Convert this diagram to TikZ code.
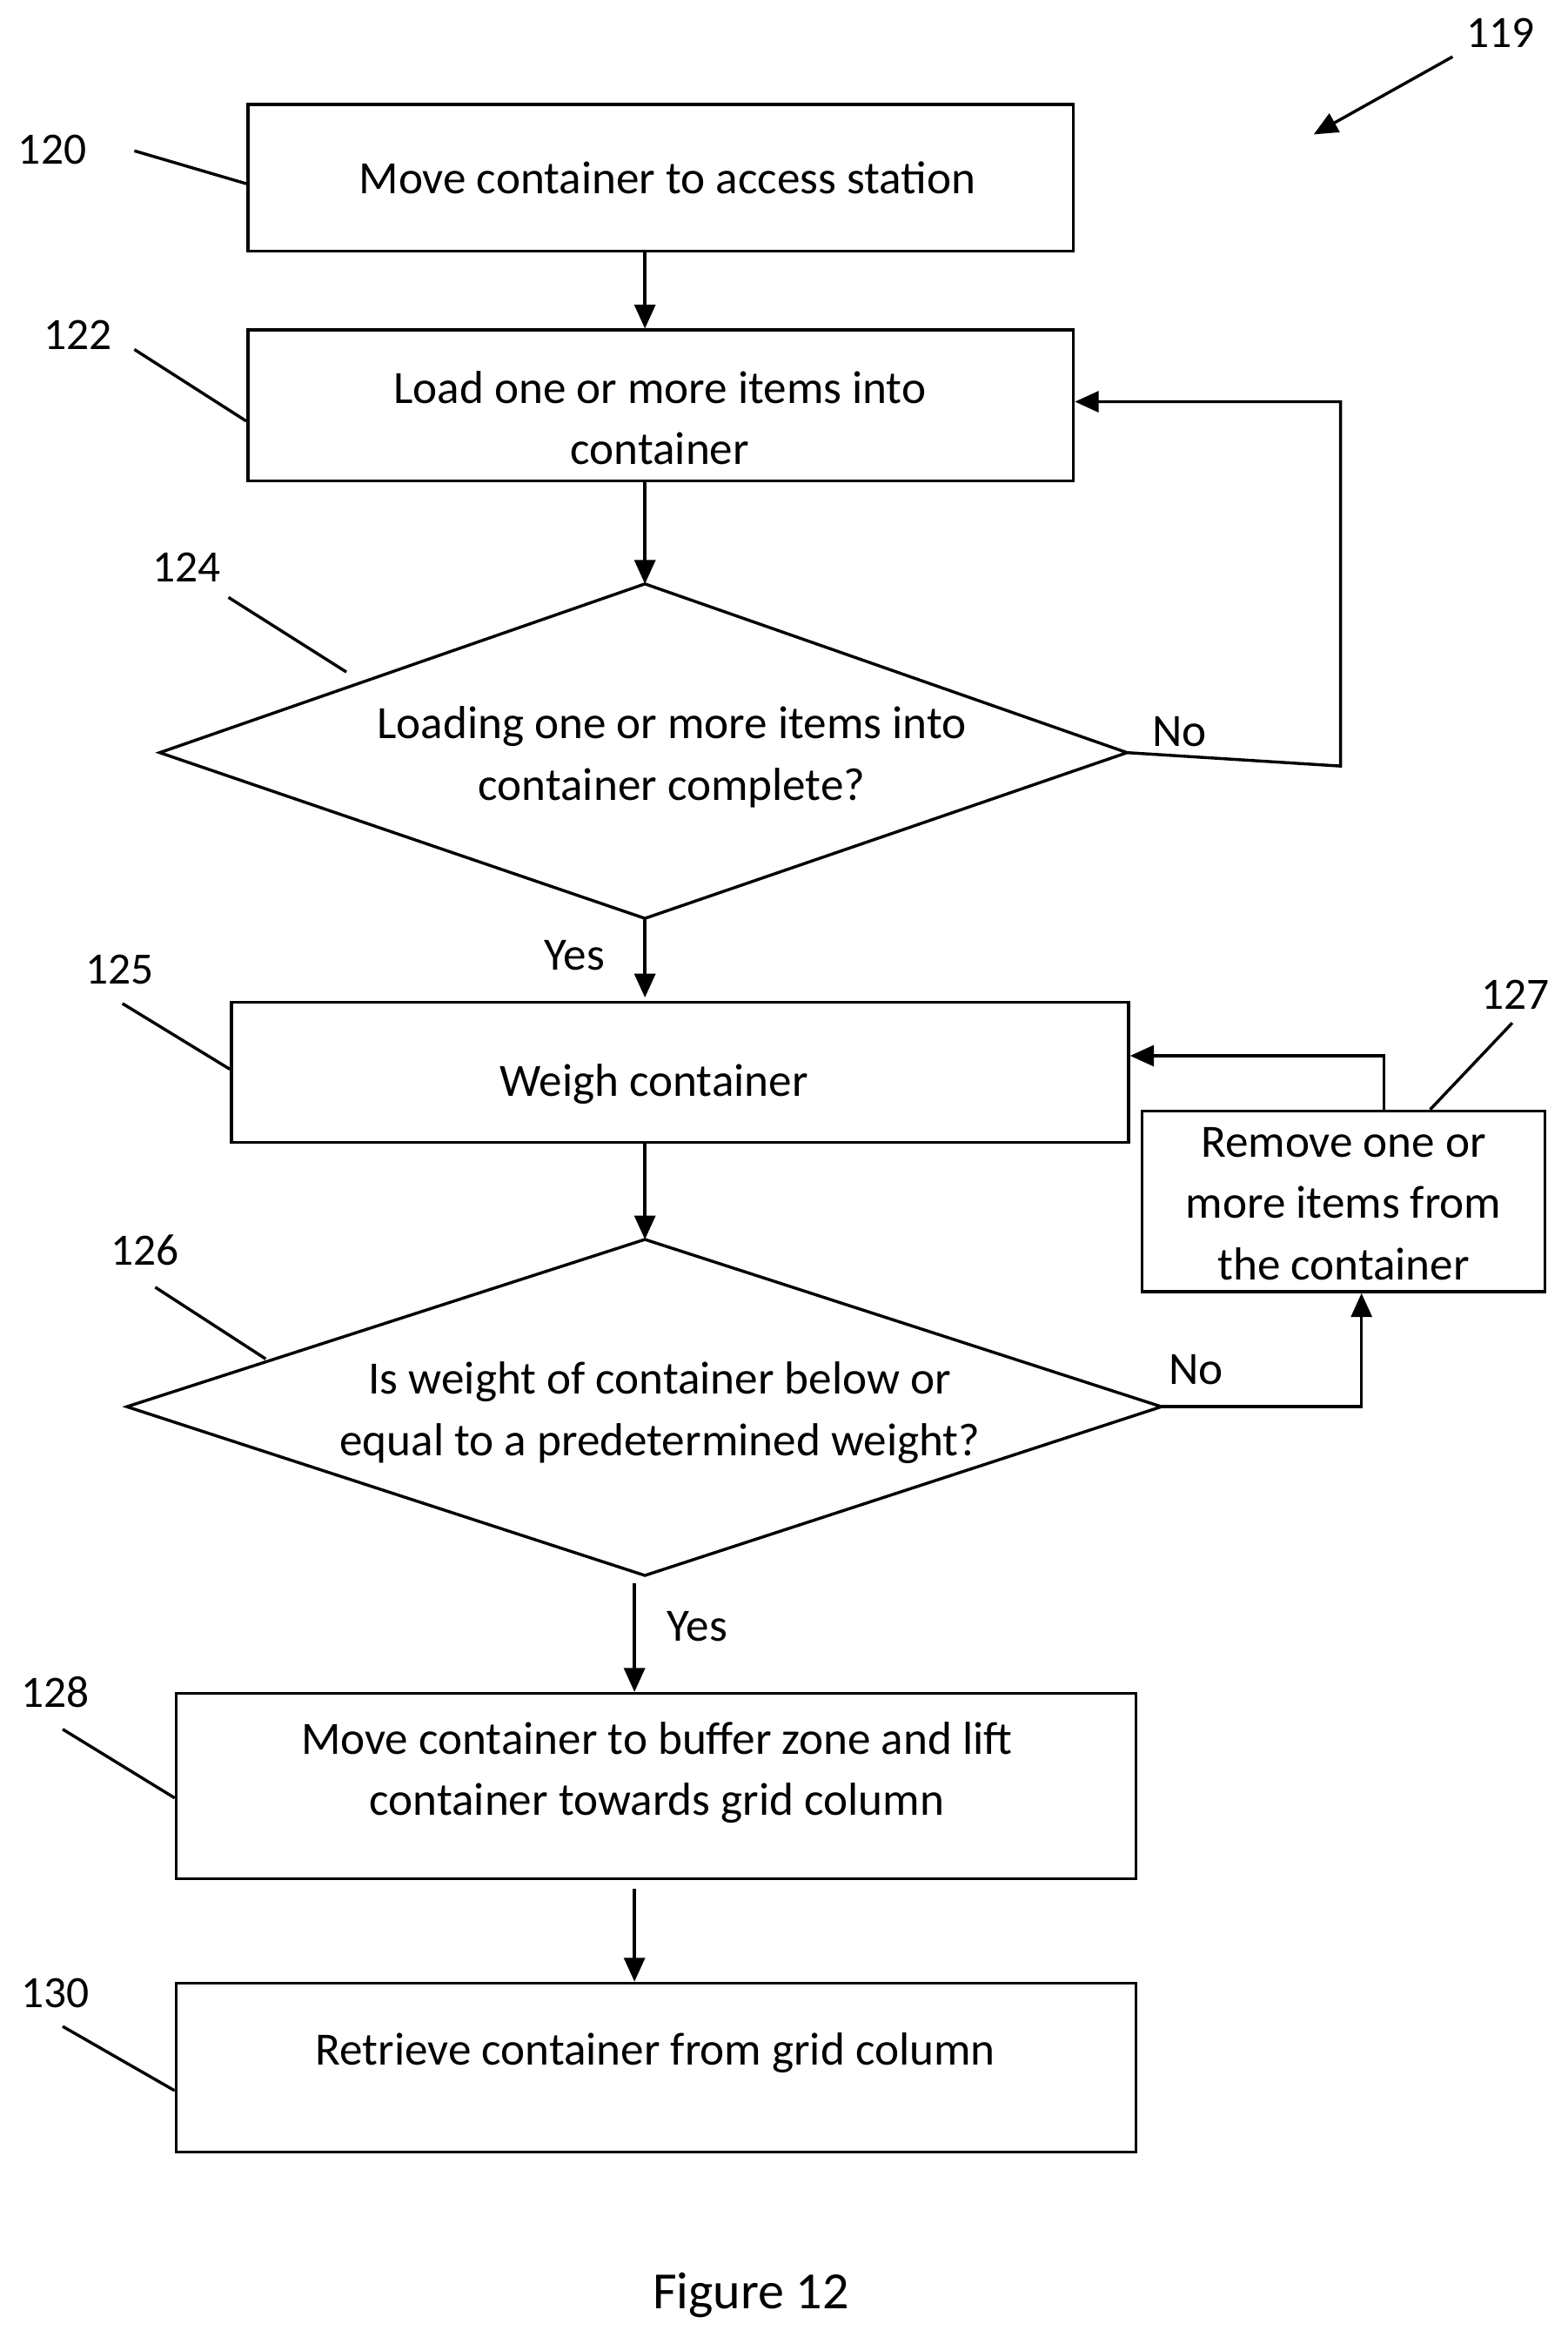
\documentclass[tikz,border=0pt]{standalone}
\usepackage{fontspec}
\setmainfont{Carlito}
\usetikzlibrary{arrows.meta,shapes.geometric}
\begin{document}
\begin{tikzpicture}[x=0.5pt,y=-0.5pt,
  every node/.style={font=\fontsize{15.5}{20.5}\selectfont},
  box/.style={draw,line width=1pt,inner sep=0pt,align=center},
  txt/.style={align=center,inner sep=0pt},
  line/.style={line width=1pt},
  arr/.style={line width=1pt,-{Triangle[length=8pt,width=7pt]}},
  lab/.style={font=\fontsize{15}{17}\selectfont}]
\useasboundingbox (0,0) rectangle (1050,1565);
% boxes
\node[box,minimum width=276.5pt,minimum height=49pt] (b120) at (442.5,119) {};
\node[txt] (t120) at (447,119) {Move container to access station};
\node[box,minimum width=276.5pt,minimum height=50.5pt] (b122) at (442.5,271.5) {};
\node[txt] (t122) at (442,280) {Load one or more items into\\container};
\draw[line width=1pt] (107,504) coordinate (d124w) -- (432,391) coordinate (d124n) -- (755,504) coordinate (d124e) -- (432,615) coordinate (d124s) -- cycle;
\node[txt] (t124) at (450,507) {Loading one or more items into\\container complete?};
\node[box,minimum width=300.5pt,minimum height=47pt] (b125) at (455.5,718) {};
\node[txt] (t125) at (438,726) {Weigh container};
\node[box,minimum width=135pt,minimum height=60.5pt] (b127) at (900,804.5) {};
\node[txt] (t127) at (900,806) {Remove one or\\more items from\\the container};
\draw[line width=1pt] (85,942) coordinate (d126w) -- (432,830) coordinate (d126n) -- (778,942) coordinate (d126e) -- (432,1055) coordinate (d126s) -- cycle;
\node[txt] (t126) at (442,946) {Is weight of container below or\\equal to a predetermined weight?};
\node[box,minimum width=321.5pt,minimum height=62pt] (b128) at (439.5,1196) {};
\node[txt] (t128) at (440,1187) {Move container to buffer zone and lift\\container towards grid column};
\node[box,minimum width=321.5pt,minimum height=56.5pt] (b130) at (439.5,1384.5) {};
\node[txt] (t130) at (439,1375) {Retrieve container from grid column};
% connectors
\draw[arr] (b120.south -| 432,0) -- (b122.north -| 432,0);
\draw[arr] (b122.south -| 432,0) -- (d124n);
\draw[arr] (d124s) -- (432,668) coordinate (c1);
\node (yes1) at (385,640) {Yes};
\draw[arr] (d124e) -- (898,513) -- (898,269) -- (b122.east |- 0,269);
\node (no1) at (790,490) {No};
\draw[arr] (b125.south -| 432,0) -- (d126n);
\draw[arr] (d126e) -- (912,942) -- (b127.south -| 912,0);
\node (no2) at (801,917) {No};
\draw[arr] (b127.north -| 927,0) -- (927,707) -- (b125.east |- 0,707);
\coordinate (y2s) at (425,1060);
\draw[arr] (y2s) -- (b128.north -| 425,0);
\node (yes2) at (467,1089) {Yes};
\coordinate (c2) at (425,1265);
\draw[arr] (c2) -- (b130.north -| 425,0);
% reference labels
\node[lab] (l120) at (35,100) {120};
\draw[line] (90,101) -- (b120.west |- 0,123);
\node[lab] (l122) at (52,224) {122};
\draw[line] (90,234) -- (b122.west |- 0,282);
\node[lab] (l124) at (125,380) {124};
\draw[line] (153,400) -- (232,450);
\node[lab] (l125) at (80,649) {125};
\draw[line] (82,672) -- (b125.west |- 0,716);
\node[lab] (l126) at (97,837) {126};
\draw[line] (104,862) -- (178,910);
\node[lab] (l127) at (1015,666) {127};
\draw[line] (1013,685) -- (958,743);
\node[lab] (l128) at (37,1133) {128};
\draw[line] (42,1158) -- (b128.west |- 0,1204);
\node[lab] (l130) at (37,1335) {130};
\draw[line] (42,1357) -- (b130.west |- 0,1400);
\node[lab] (l119) at (1005,22) {119};
\coordinate (a119) at (973,38);
\draw[arr] (a119) -- (880,90);
\node (fig) at (503,1537) {\fontsize{17.5}{20}\selectfont Figure 12};
\end{tikzpicture}
\end{document}
